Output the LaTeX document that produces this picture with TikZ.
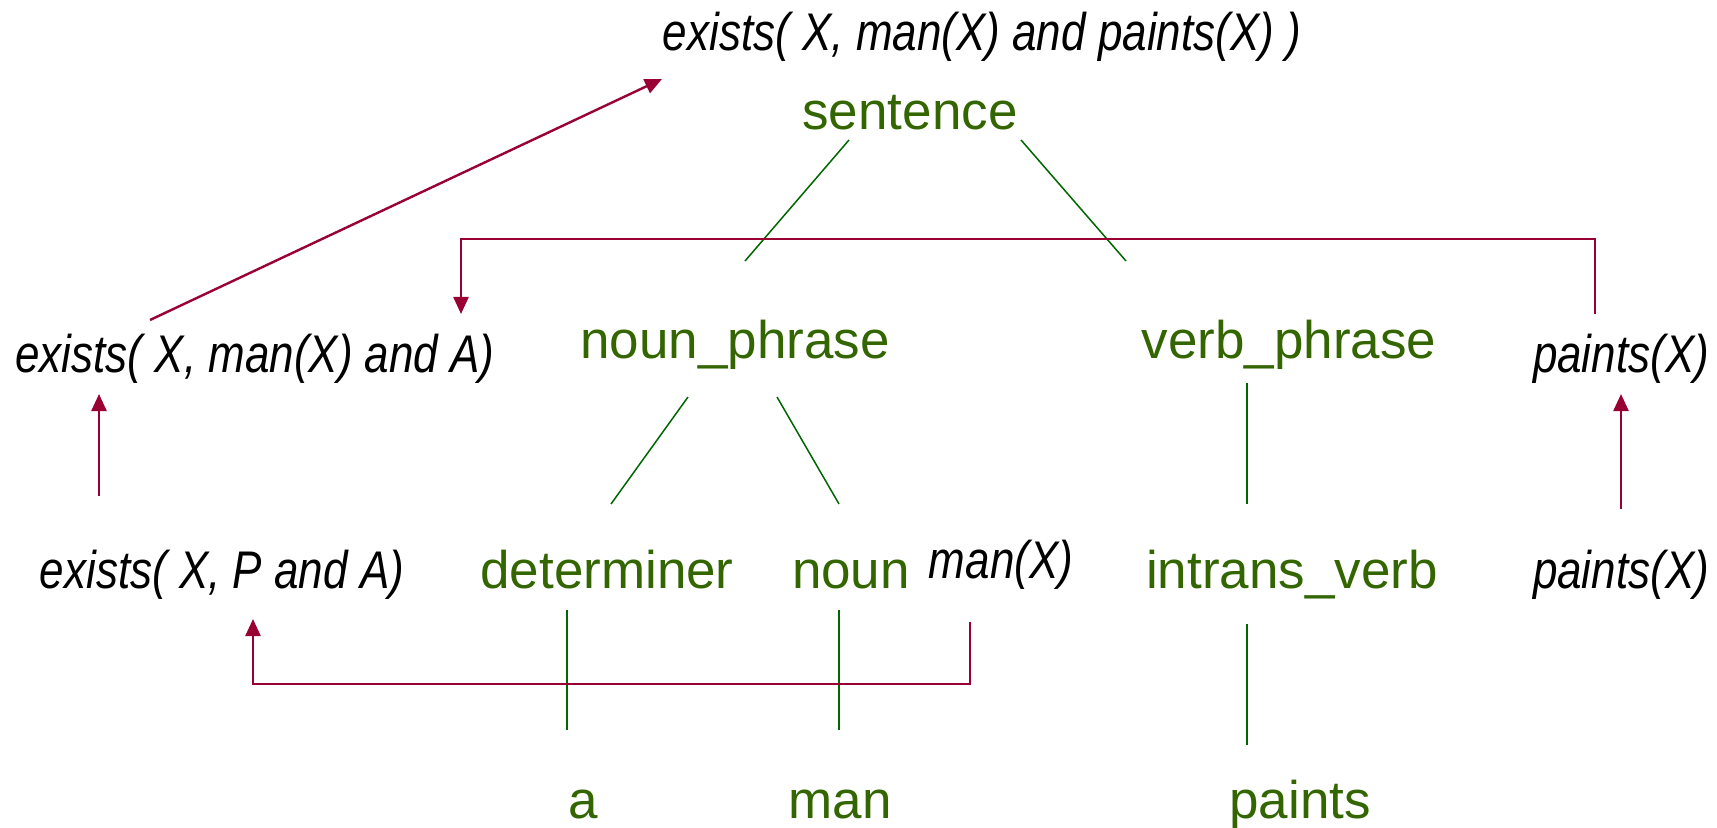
\documentclass[tikz,border=0pt]{standalone}
\usepackage{fontspec}
\setmainfont{Liberation Sans}
\newfontfamily\semfont[FakeStretch=0.83]{Liberation Sans}
\usepackage{xcolor}
\usepackage{tikz}
\usetikzlibrary{arrows.meta,calc}
\definecolor{PGcat}{HTML}{336600}
\definecolor{PGline}{HTML}{006600}
\definecolor{PGsem}{HTML}{990033}
\tikzset{
  catnode/.style={anchor=base, inner sep=0pt, text=PGcat, font=\fontsize{26.5}{30}\selectfont},
  semnode/.style={anchor=base, inner sep=0pt, text=black, font=\semfont\itshape\fontsize{26.5}{30}\selectfont},
  treeline/.style={draw=PGline, line width=0.75pt},
  semarr/.style={-{Triangle[length=8.5pt, width=7.5pt]}, draw=PGsem, line width=1.2pt}
}
\begin{document}
\begin{tikzpicture}[x=0.5pt, y=-0.5pt]
  \useasboundingbox (0,0) rectangle (1717,828);
  \node[semnode] (whole) at (982,51) {exists( X, man(X) and paints(X) )};
  \node[catnode] (sentence) at (910,130) {sentence};
  \node[semnode] (npsem) at (255,372) {exists( X, man(X) and A)};
  \node[catnode] (np) at (735,358) {noun\_phrase};
  \node[catnode] (vp) at (1289,358) {verb\_phrase};
  \node[semnode] (vpsem) at (1621,372) {paints(X)};
  \node[semnode] (detsem) at (222,588) {exists( X, P and A)};
  \node[catnode] (det) at (607,588) {determiner};
  \node[catnode] (noun) at (851,588) {noun};
  \node[semnode] (nounsem) at (1001,578) {man(X)};
  \node[catnode] (iv) at (1292,588) {intrans\_verb};
  \node[semnode] (ivsem) at (1621,588) {paints(X)};
  \node[catnode] (a) at (583,818) {a};
  \node[catnode] (man) at (840,818) {man};
  \node[catnode] (paints) at (1300,818) {paints};
  \draw[treeline] ([shift={(-61,10)}]sentence.base) -- ([shift={(10,-97)}]np.base);
  \draw[treeline] ([shift={(111,10)}]sentence.base) -- ([shift={(-163,-97)}]vp.base);
  \draw[treeline] ([shift={(-47,39)}]np.base) -- ([shift={(4,-84)}]det.base);
  \draw[treeline] ([shift={(42,39)}]np.base) -- ([shift={(-12,-84)}]noun.base);
  \draw[treeline] ([shift={(-42,25)}]vp.base) -- ([shift={(-45,-84)}]iv.base);
  \draw[treeline] ([shift={(-40,22)}]det.base) -- ([shift={(-16,-88)}]a.base);
  \draw[treeline] ([shift={(-12,22)}]noun.base) -- ([shift={(-1,-88)}]man.base);
  \draw[treeline] ([shift={(-45,36)}]iv.base) -- ([shift={(-53,-73)}]paints.base);
  \draw[semarr] ([shift={(-105,-52)}]npsem.base) -- ([shift={(-320,28)}]whole.base);
  \draw[semarr] ([shift={(-123,-92)}]detsem.base) -- ([shift={(-156,22)}]npsem.base);
  \draw[semarr] ([shift={(-26,-58)}]vpsem.base) -- ++(0,-75) -| ([shift={(206,-58)}]npsem.base);
  \draw[semarr] ([shift={(0,-79)}]ivsem.base) -- ([shift={(0,22)}]vpsem.base);
  \draw[semarr] ([shift={(-31,44)}]nounsem.base) -- ++(0,62) -| ([shift={(31,31)}]detsem.base);
\end{tikzpicture}
\end{document}
